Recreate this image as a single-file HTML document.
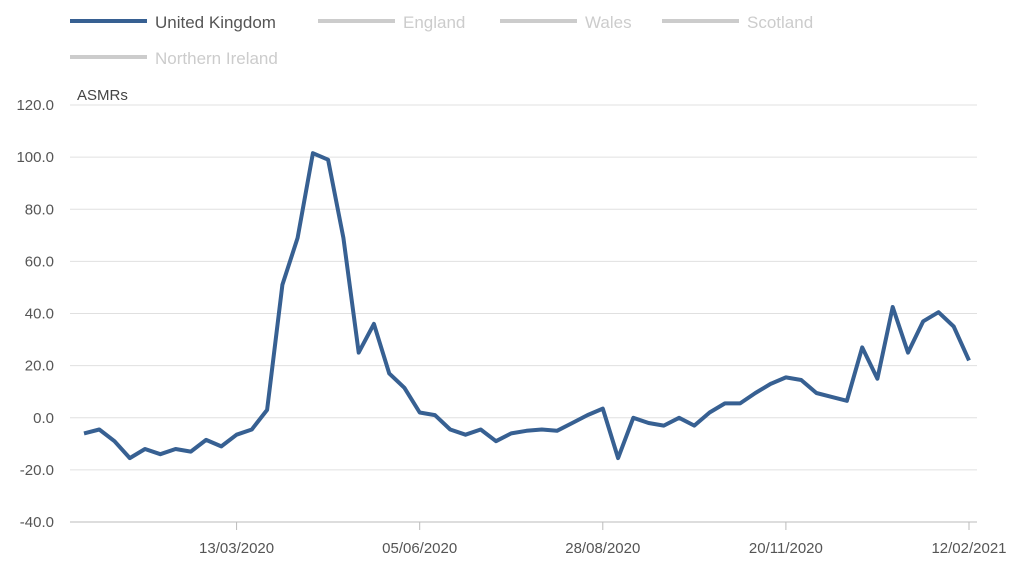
<!DOCTYPE html>
<html><head><meta charset="utf-8"><style>
body{margin:0;background:#fff;font-family:"Liberation Sans",sans-serif;}
svg text{font-family:"Liberation Sans",sans-serif;}
</style></head><body>
<svg id="chart" width="1024" height="566" viewBox="0 0 1024 566">
<g>
<g><line x1="70" y1="21" x2="147" y2="21" stroke="#376092" stroke-width="4"/><text x="155" y="28" font-size="17" fill="#555">United Kingdom</text></g>
<g><line x1="318" y1="21" x2="395" y2="21" stroke="#ccc" stroke-width="4"/><text x="403" y="28" font-size="17" fill="#ccc">England</text></g>
<g><line x1="500" y1="21" x2="577" y2="21" stroke="#ccc" stroke-width="4"/><text x="585" y="28" font-size="17" fill="#ccc">Wales</text></g>
<g><line x1="662" y1="21" x2="739" y2="21" stroke="#ccc" stroke-width="4"/><text x="747" y="28" font-size="17" fill="#ccc">Scotland</text></g>
<g><line x1="70" y1="57" x2="147" y2="57" stroke="#ccc" stroke-width="4"/><text x="155" y="64" font-size="17" fill="#ccc">Northern Ireland</text></g>
</g>
<text x="77" y="100" font-size="15" fill="#444">ASMRs</text>
<g id="grid"></g><g id="yticks"></g><g id="xticks"></g>
<path id="series" fill="none" stroke="#376092" stroke-width="4" stroke-linejoin="round"/>
</svg>
<script>
const values=[-6,-4.5,-9,-15.5,-12,-14,-12,-13,-8.5,-11,-6.5,-4.5,3,51,69,101.5,99,69,25,36,17,11.5,2,1,-4.5,-6.5,-4.5,-9,-6,-5,-4.5,-5,-2,1,3.5,-15.5,0,-2,-3,0,-3,2,5.5,5.5,9.5,13,15.5,14.5,9.5,8,6.5,27,15,42.5,25,37,40.5,35,22];
const yTicks=[120,100,80,60,40,20,0,-20,-40];
const xTickLabels=["13/03/2020","05/06/2020","28/08/2020","20/11/2020","12/02/2021"];
const xTickIndex=[10,22,34,46,58];
const ns="http://www.w3.org/2000/svg";
const X0=84,X1=969,Y0=105,Y1=522;
const xs=i=>X0+(X1-X0)*i/(values.length-1);
const ys=v=>Y0+(120-v)*(Y1-Y0)/160;
const grid=document.getElementById('grid'),yt=document.getElementById('yticks'),xt=document.getElementById('xticks');
yTicks.forEach(v=>{
 const l=document.createElementNS(ns,'line');
 
 
 l.setAttribute('x1',70);l.setAttribute('x2',977);l.setAttribute('y1',ys(v));l.setAttribute('y2',ys(v));
 l.setAttribute('stroke',v===-40?'#bbb':'#e0e0e0');l.setAttribute('stroke-width',1);
 grid.appendChild(l);
 const t=document.createElementNS(ns,'text');
 
 
 t.setAttribute('x',54);t.setAttribute('y',ys(v)+5);t.setAttribute('text-anchor','end');
 t.setAttribute('font-size',15);t.setAttribute('fill','#555');
 t.textContent=v.toFixed(1);yt.appendChild(t);
});
xTickLabels.forEach((s,k)=>{
 const x=xs(xTickIndex[k]);
 const l=document.createElementNS(ns,'line');
 
 
 l.setAttribute('x1',x);l.setAttribute('x2',x);l.setAttribute('y1',Y1);l.setAttribute('y2',Y1+8);
 l.setAttribute('stroke','#bbb');xt.appendChild(l);
 const t=document.createElementNS(ns,'text');
 
 
 t.setAttribute('x',x);t.setAttribute('y',553);t.setAttribute('text-anchor','middle');
 t.setAttribute('font-size',15);t.setAttribute('fill','#555');
 t.textContent=s;xt.appendChild(t);
});
document.getElementById('series').setAttribute('d',values.map((v,i)=>(i?'L':'M')+xs(i).toFixed(1)+','+ys(v).toFixed(1)).join(''));
</script>
</body></html>
